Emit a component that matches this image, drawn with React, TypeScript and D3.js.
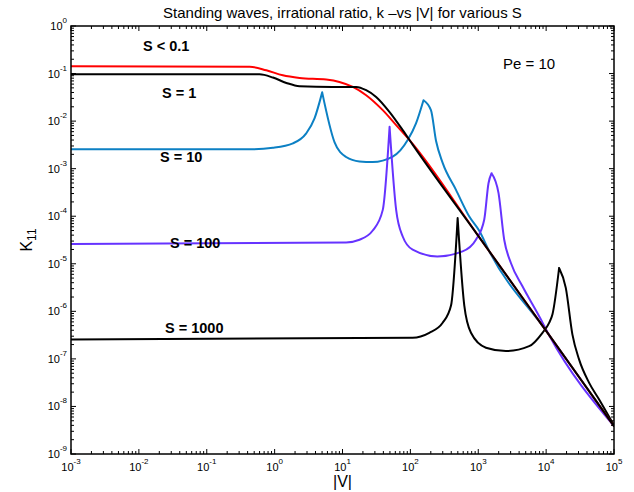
import React from 'react';
import * as d3 from 'd3';

const WIDTH = 634;
const HEIGHT = 492;
const PLOT = { left: 71, right: 614, top: 26, bottom: 454 };

const TITLE = 'Standing waves, irrational ratio, k \u2013vs |V| for various S';
const X_LABEL = '|V|';
const X_DECADES = [-3, -2, -1, 0, 1, 2, 3, 4, 5];
const Y_DECADES = [-9, -8, -7, -6, -5, -4, -3, -2, -1, 0];

// S < 0.1
const vRed = [0.001, 0.43, 0.755, 1.32, 2.33, 5.75, 9.0, 14.2, 22.3, 39.2, 61.7, 100, 1000, 10000, 100000];
const kRed = [0.142, 0.139, 0.117, 0.092, 0.081, 0.075, 0.0667, 0.0524, 0.0351, 0.017, 0.00824, 0.0038, 3.87e-5, 3.87e-7, 3.87e-9];

// S = 1
const vS1 = [0.001, 0.6, 0.944, 1.49, 2.33, 7.2, 15.9, 22.3, 31.3, 49.1, 77.1, 108, 1000, 10000, 100000];
const kS1 = [0.0967, 0.0962, 0.0824, 0.0635, 0.0542, 0.0524, 0.0524, 0.0447, 0.0323, 0.0157, 0.00648, 0.0032, 3.87e-5, 3.87e-7, 3.87e-9];

// S = 10
const vS10 = [0.001, 0.429, 0.944, 1.86, 2.92, 3.87, 5.02, 7.62, 11.3, 17.8, 27.9, 55.0, 91.3, 121, 156, 201, 239, 299, 470, 738, 1035, 1452, 10000, 100000];
const kS10 = [0.00255, 0.00256, 0.00275, 0.0034, 0.00552, 0.0114, 0.0402, 0.00363, 0.00176, 0.00142, 0.00138, 0.00179, 0.004, 0.00895, 0.0275, 0.017, 0.00381, 0.00132, 3.58e-4, 9.86e-5, 4.94e-5, 1.84e-5, 3.9e-7, 3.87e-9];

// S = 100
const vS100 = [0.001, 11.3, 17.8, 27.9, 39.2, 49.4, 61.7, 77.1, 108, 249, 587, 924, 1224, 1416, 1570, 1990, 2412, 3027, 4480, 7890, 11070, 100000];
const kS100 = [2.6e-5, 2.81e-5, 3.2e-5, 5.0e-5, 1.36e-4, 7.6e-3, 1.36e-4, 3.75e-5, 1.98e-5, 1.43e-5, 1.82e-5, 3.2e-5, 8.41e-5, 4.94e-4, 8.01e-4, 3.05e-4, 3.2e-5, 1.04e-5, 3.36e-6, 7.89e-7, 3.15e-7, 3.87e-9];

// S = 1000
const vS1000 = [0.001, 108, 190, 299, 397, 497, 623, 781, 1298, 2553, 5623, 8830, 11070, 12380, 15530, 19490, 24370, 30560, 42850, 60100, 100000];
const kS1000 = [2.56e-7, 2.78e-7, 3.54e-7, 5.74e-7, 1.32e-6, 9.12e-5, 1.32e-6, 3.54e-7, 1.72e-7, 1.46e-7, 1.85e-7, 3.54e-7, 5.74e-7, 8.57e-7, 8.17e-6, 3.11e-6, 3.27e-7, 9.77e-8, 3.17e-8, 1.42e-8, 4.0e-9];

const SERIES = [
  { id: 's10', v: vS10, k: kS10, color: '#0c80c4' },
  { id: 's100', v: vS100, k: kS100, color: '#6633ff' },
  { id: 's1000', v: vS1000, k: kS1000, color: '#000000' },
  { id: 'red', v: vRed, k: kRed, color: '#ff0000' },
  { id: 's1', v: vS1, k: kS1, color: '#000000' },
];

const LABELS = [
  { text: 'S < 0.1', v: 0.0115, k: 0.298 },
  { text: 'S = 1', v: 0.0219, k: 0.0306 },
  { text: 'S = 10', v: 0.0205, k: 0.00138 },
  { text: 'S = 100', v: 0.0288, k: 2.15e-5 },
  { text: 'S = 1000', v: 0.0243, k: 3.51e-7 },
];

const FONT = "'Liberation Sans', Arial, Helvetica, sans-serif";

// Split a series at its resonance peaks so each piece is smoothed on its own
// and the peaks stay pointed.
function splitAtPeaks(pts: [number, number][]): [number, number][][] {
  const pieces: [number, number][][] = [];
  let cur: [number, number][] = [pts[0]];
  for (let i = 1; i < pts.length; i++) {
    cur.push(pts[i]);
    const isPeak = i < pts.length - 1 && pts[i][1] > pts[i - 1][1] && pts[i][1] > pts[i + 1][1];
    if (isPeak) {
      pieces.push(cur);
      cur = [pts[i]];
    }
  }
  if (cur.length > 1) pieces.push(cur);
  return pieces;
}

export default function App() {
  const x = d3.scaleLog().domain([1e-3, 1e5]).range([PLOT.left, PLOT.right]);
  const y = d3.scaleLog().domain([1e-9, 1]).range([PLOT.bottom, PLOT.top]);

  const minorX: number[] = [];
  X_DECADES.slice(0, -1).forEach((d) => {
    for (let m = 2; m <= 9; m++) minorX.push(m * Math.pow(10, d));
  });
  const minorY: number[] = [];
  Y_DECADES.slice(0, -1).forEach((d) => {
    for (let m = 2; m <= 9; m++) minorY.push(m * Math.pow(10, d));
  });

  const line = d3
    .line<[number, number]>()
    .x((d) => x(d[0]))
    .y((d) => y(d[1]))
    .curve(d3.curveMonotoneX);

  const paths = SERIES.map((s) => {
    const pts = s.v.map((v, i) => [v, s.k[i]] as [number, number]);
    const d = splitAtPeaks(pts)
      .map((piece) => line(piece) || '')
      .join('');
    return { id: s.id, d, color: s.color };
  });

  const MAJ = 5;
  const MIN = 3;

  return (
    <svg
      width={WIDTH}
      height={HEIGHT}
      style={{ position: 'absolute', left: 0, top: 0, background: '#fff' }}
      fontFamily={FONT}
    >
      <rect x={0} y={0} width={WIDTH} height={HEIGHT} fill="#fff" />
      <defs>
        <clipPath id="plot-clip">
          <rect x={PLOT.left} y={PLOT.top} width={PLOT.right - PLOT.left} height={PLOT.bottom - PLOT.top} />
        </clipPath>
      </defs>

      <g clipPath="url(#plot-clip)" fill="none" strokeWidth={2} strokeLinejoin="round" strokeLinecap="round">
        {paths.map((p) => (
          <path key={p.id} d={p.d} stroke={p.color} />
        ))}
      </g>

      {/* ticks, pointing inward on all four sides */}
      <g stroke="#000" strokeWidth={1}>
        {X_DECADES.map((d) => {
          const px = x(Math.pow(10, d));
          return (
            <g key={'xt' + d}>
              <line x1={px} x2={px} y1={PLOT.bottom} y2={PLOT.bottom - MAJ} />
              <line x1={px} x2={px} y1={PLOT.top} y2={PLOT.top + MAJ} />
            </g>
          );
        })}
        {minorX.map((v, i) => {
          const px = x(v);
          return (
            <g key={'xm' + i}>
              <line x1={px} x2={px} y1={PLOT.bottom} y2={PLOT.bottom - MIN} />
              <line x1={px} x2={px} y1={PLOT.top} y2={PLOT.top + MIN} />
            </g>
          );
        })}
        {Y_DECADES.map((d) => {
          const py = y(Math.pow(10, d));
          return (
            <g key={'yt' + d}>
              <line x1={PLOT.left} x2={PLOT.left + MAJ} y1={py} y2={py} />
              <line x1={PLOT.right} x2={PLOT.right - MAJ} y1={py} y2={py} />
            </g>
          );
        })}
        {minorY.map((v, i) => {
          const py = y(v);
          return (
            <g key={'ym' + i}>
              <line x1={PLOT.left} x2={PLOT.left + MIN} y1={py} y2={py} />
              <line x1={PLOT.right} x2={PLOT.right - MIN} y1={py} y2={py} />
            </g>
          );
        })}
      </g>

      <rect
        x={PLOT.left}
        y={PLOT.top}
        width={PLOT.right - PLOT.left}
        height={PLOT.bottom - PLOT.top}
        fill="none"
        stroke="#000"
        strokeWidth={1.5}
      />

      {/* x tick labels */}
      <g fontSize={11} fill="#000">
        {X_DECADES.map((d) => (
          <text key={'xl' + d} x={x(Math.pow(10, d))} y={471} textAnchor="middle">
            <tspan>10</tspan>
            <tspan dy={-7} fontSize={8}>{String(d)}</tspan>
          </text>
        ))}
      </g>

      {/* y tick labels */}
      <g fontSize={11} fill="#000">
        {Y_DECADES.map((d) => (
          <text key={'yl' + d} x={67} y={y(Math.pow(10, d)) + 4} textAnchor="end">
            <tspan>10</tspan>
            <tspan dy={-7} fontSize={8}>{String(d)}</tspan>
          </text>
        ))}
      </g>

      <text x={(PLOT.left + PLOT.right) / 2} y={18} textAnchor="middle" fontSize={15} fill="#000">
        {TITLE}
      </text>

      <text x={(PLOT.left + PLOT.right) / 2} y={487} textAnchor="middle" fontSize={16} fill="#000">
        {X_LABEL}
      </text>

      <text transform="translate(32,240) rotate(-90)" textAnchor="middle" fontSize={16} fill="#000">
        <tspan>K</tspan>
        <tspan dy={4} fontSize={12}>11</tspan>
      </text>

      <g fontSize={14.5} fontWeight="bold" fill="#000">
        {LABELS.map((l) => (
          <text key={l.text} x={x(l.v)} y={y(l.k)}>
            {l.text}
          </text>
        ))}
      </g>

      <text x={503} y={69} fontSize={15} fill="#000">
        Pe = 10
      </text>
    </svg>
  );
}
